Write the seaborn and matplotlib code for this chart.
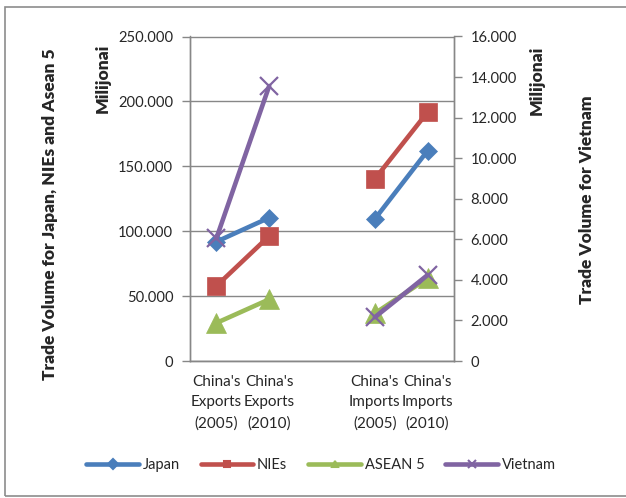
import matplotlib
matplotlib.use("Agg")
import matplotlib.pyplot as plt
import numpy as np
import pandas as pd
import seaborn as sns
from matplotlib.lines import Line2D

# Category axis (blank slot separates exports from imports)
categories = ["China's\nExports\n(2005)", "China's\nExports\n(2010)", "",
              "China's\nImports\n(2005)", "China's\nImports\n(2010)"]

# Trade volumes, milijonai
japan = [91900, 110400, None, 109400, 162000]
nies = [57800, 96300, None, 140200, 191800]
asean5 = [29300, 47500, None, 36700, 63700]
vietnam = [6050, 13560, None, 2155, 4240]

left_ticks = [0, 50000, 100000, 150000, 200000, 250000]
right_ticks = [0, 2000, 4000, 6000, 8000, 10000, 12000, 14000, 16000]

series_names = ["Japan", "NIEs", "ASEAN 5", "Vietnam"]
colors = {"Japan": "#4A7EBB", "NIEs": "#C0504D", "ASEAN 5": "#9BBB59", "Vietnam": "#8064A2"}
markers = {"Japan": "D", "NIEs": "s", "ASEAN 5": "^", "Vietnam": "x"}
msizes = {"Japan": 9.5, "NIEs": 13, "ASEAN 5": 14, "Vietnam": 13}

sns.set_style("white")
plt.rcParams["font.family"] = ["Lato", "DejaVu Sans"]

W, H = 626, 498
fig = plt.figure(figsize=(W / 100, H / 100), dpi=100)


def fx(px):
    return px / W


def fy(py):
    return 1 - py / H


ax = fig.add_axes([fx(190), fy(361), fx(454) - fx(190), fy(36.5) - fy(361)])
ax2 = ax.twinx()


def segments(values):
    rows, seg = [], 0
    for i, v in enumerate(values):
        if v is None:
            seg += 1
            continue
        rows.append({"pos": i, "value": v, "seg": seg})
    return pd.DataFrame(rows)


grid_c = "#878787"
for name, vals, target in [("Japan", japan, ax), ("NIEs", nies, ax),
                           ("ASEAN 5", asean5, ax), ("Vietnam", vietnam, ax2)]:
    df = segments(vals)
    c = colors[name]
    sns.lineplot(data=df, x="pos", y="value", units="seg", estimator=None,
                 color=c, linewidth=3.3, marker=markers[name],
                 markersize=msizes[name], markeredgecolor=c,
                 markeredgewidth=1.6 if name == "Vietnam" else 0.5,
                 ax=target, legend=False, zorder=3)

# Axes limits and ticks
ax.set_xlim(-0.5, len(categories) - 0.5)
ax.set_ylim(0, 250000)
ax2.set_ylim(0, 16000)

ax.set_xticks(np.arange(-0.5, len(categories), 1.0))
ax.set_xticklabels([])
ax.set_xticks(np.arange(len(categories)), minor=True)
ax.set_xticklabels(categories, minor=True, fontsize=11, linespacing=1.6)
ax.tick_params(axis="x", which="major", direction="out", length=5, color=grid_c, width=1)
ax.tick_params(axis="x", which="minor", length=0, pad=10)

fmt = lambda v: "0" if v == 0 else f"{v:,.0f}".replace(",", ".")
ax.set_yticks(left_ticks)
ax.set_yticklabels([fmt(v) for v in left_ticks], fontsize=10.6)
ax2.set_yticks(right_ticks)
ax2.set_yticklabels([fmt(v) for v in right_ticks], fontsize=10.6)
ax.tick_params(axis="y", direction="out", length=6, color=grid_c, width=1, pad=6)
ax2.tick_params(axis="y", direction="out", length=6, color=grid_c, width=1, pad=6)

ax.set_xlabel("")
ax.set_ylabel("")
ax2.set_ylabel("")
ax2.set_xlabel("")

ax.yaxis.grid(True, color=grid_c, linewidth=1)
ax.xaxis.grid(False)
ax.set_axisbelow(True)
for a in (ax, ax2):
    for side in ("left", "bottom", "right"):
        a.spines[side].set_color(grid_c)
        a.spines[side].set_linewidth(1)
    a.spines["top"].set_visible(False)
    a.patch.set_visible(False)

# Axis titles
title_kw = dict(rotation=90, fontsize=12.5, fontweight="heavy", ha="center", va="center")
fig.text(fx(50), fy(214), "Trade Volume for Japan, NIEs and Asean 5", **title_kw)
fig.text(fx(103), fy(78), "Milijonai", **title_kw)
fig.text(fx(537), fy(80), "Milijonai", **title_kw)
fig.text(fx(587), fy(200), "Trade Volume for Vietnam", **title_kw)

# Legend
handles = [Line2D([], [], color=colors[n], linewidth=3.3, marker=markers[n],
                  markersize=5 if n != "Vietnam" else 6, markeredgecolor=colors[n],
                  markeredgewidth=1.5)
           for n in series_names]
fig.legend(handles, series_names, loc="center", bbox_to_anchor=(fx(321), fy(465)),
           ncol=4, frameon=False, fontsize=10.5, handlelength=3.6, handletextpad=0.25,
           columnspacing=1.45)

# Chart-area border
border = plt.Rectangle((fx(4.5), fy(496)), 1.2, fy(7) - fy(496), transform=fig.transFigure,
                       fill=False, edgecolor="#8C8C8C", linewidth=1.2)
fig.patches.append(border)

fig.savefig("out.png", dpi=100)
